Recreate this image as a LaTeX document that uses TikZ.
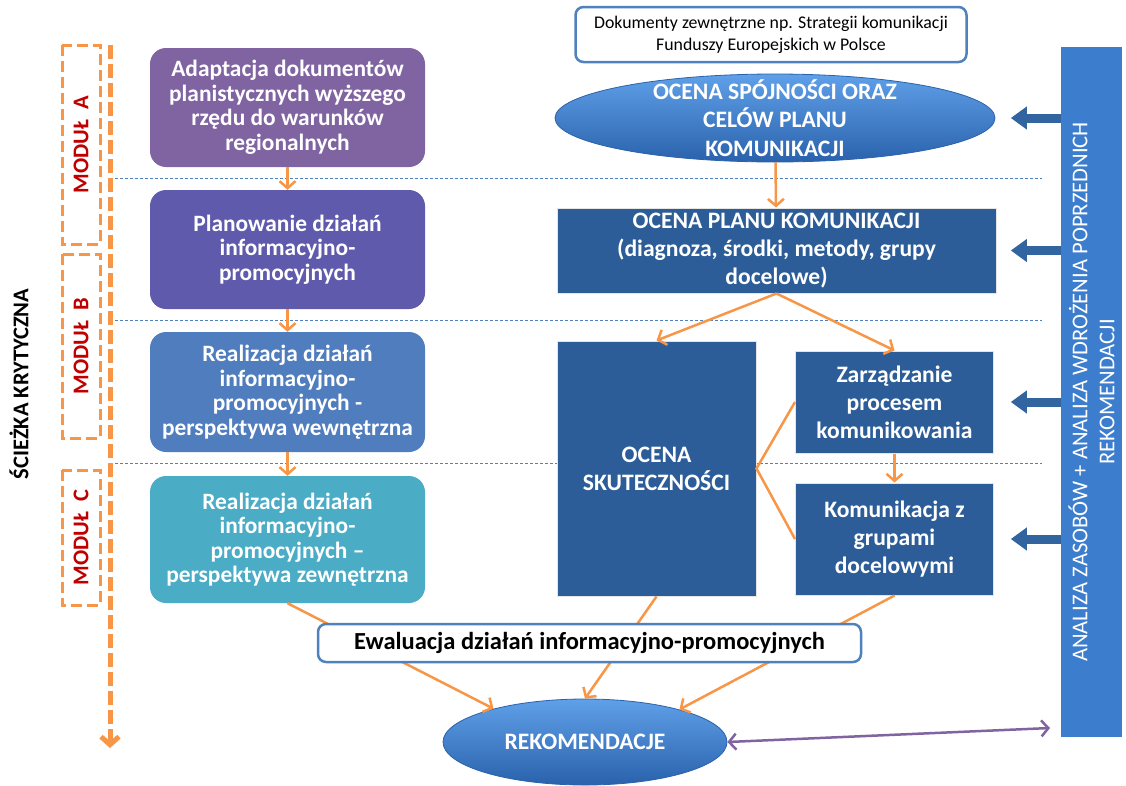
\documentclass[tikz,border=0pt]{standalone}
\usepackage{fontspec}
\setmainfont{Carlito}
\usepackage{tikz}
\usetikzlibrary{calc, positioning}
\usetikzlibrary{shapes.geometric, arrows.meta}

\definecolor{boxpurple}{RGB}{128,100,162}
\definecolor{boxviolet}{RGB}{95,90,172}
\definecolor{boxblue}{RGB}{80,125,190}
\definecolor{boxteal}{RGB}{75,172,198}
\definecolor{darkbox}{RGB}{44,93,152}
\definecolor{barblue}{RGB}{60,125,205}
\definecolor{ovaltop}{RGB}{95,160,232}
\definecolor{ovalbottom}{RGB}{42,98,172}
\definecolor{linkorange}{RGB}{247,150,70}
\definecolor{sepblue}{RGB}{79,129,189}
\definecolor{modred}{RGB}{192,0,0}
\definecolor{feedblue}{RGB}{50,100,160}

\begin{document}
\begin{tikzpicture}[x=1pt, y=-1pt,
    stepbox/.style={rounded corners=16pt, text=white, align=center, minimum width=275pt, inner sep=0pt, font=\bfseries\fontsize{23.4}{24.5}\selectfont},
    bluebox/.style={fill=darkbox, draw=white!80!gray, line width=1pt, text=white, align=center, inner sep=0pt, font=\bfseries\fontsize{23.6}{28}\selectfont},
    blueoval/.style={ellipse, top color=ovaltop, bottom color=ovalbottom, draw=ovalbottom, line width=0.8pt, inner sep=0pt, text=white, font=\bfseries\fontsize{23.6}{28}\selectfont},
    modbox/.style={draw=linkorange, dash pattern=on 11pt off 5pt, line width=3pt, rotate=90, minimum height=38pt, text=modred, font=\bfseries\fontsize{22.5}{26}\selectfont},
    link/.style={draw=linkorange, line width=2.5pt, -{Straight Barb[length=7pt, width=16pt]}},
    whitebox/.style={fill=white, draw=sepblue, line width=2.5pt, rounded corners=8pt, align=center, inner sep=0pt},
    sep/.style={sepblue, line width=0.8pt, dash pattern=on 3pt off 2pt},
    feed/.style={feedblue, line width=9pt, -{Triangle[length=16pt, width=22pt]}}]

    \useasboundingbox (0,0) rectangle (1126,785);

    \draw[sep] (110,178) -- (1042,178);
    \draw[sep] (110,320) -- (1042,320);
    \draw[sep] (110,463) -- (1042,463);

    \node[rotate=90, font=\bfseries\fontsize{22.5}{26}\selectfont] (sciezka) at (19,384) {ŚCIEŻKA KRYTYCZNA};
    \node[modbox, minimum width=199pt] (modA) at (81,144.5) {MODUŁ\ \ A};
    \node[modbox, minimum width=184pt] (modB) at (81,346) {MODUŁ\ \ B};
    \node[modbox, minimum width=135pt] (modC) at (81,537.5) {MODUŁ\ \ C};
    \coordinate (crittop) at (110,45);
    \coordinate (critend) at (110,748);
    \draw[linkorange, line width=5pt, dash pattern=on 14pt off 5pt, -{Straight Barb[length=8pt, width=18pt]}] (crittop) -- (critend);

    \node[stepbox, fill=boxpurple, minimum height=119pt] (adapt) at (287.5,107.5) {Adaptacja dokumentów\\planistycznych wyższego\\rzędu do warunków\\regionalnych};
    \node[stepbox, fill=boxviolet, minimum height=119pt] (plan) at (287.5,249.5) {Planowanie działań\\informacyjno-\\promocyjnych};
    \node[stepbox, fill=boxblue, minimum height=120pt] (realw) at (287.5,392) {Realizacja działań\\informacyjno-\\promocyjnych -\\perspektywa wewnętrzna};
    \node[stepbox, fill=boxteal, minimum height=127pt] (realz) at (287.5,539.5) {Realizacja działań\\informacyjno-\\promocyjnych –\\perspektywa zewnętrzna};

    \draw[link] (adapt) -- (plan);
    \draw[link] (plan) -- (realw);
    \draw[link] (realw) -- (realz);

    \node[whitebox, minimum width=391pt, minimum height=55pt, font=\fontsize{17.8}{22}\selectfont] (dok) at (771,34.5) {Dokumenty zewnętrzne np. Strategii komunikacji\\Funduszy Europejskich w Polsce};
    \node[blueoval, minimum width=440pt, minimum height=88pt, label={[text=white, align=center, font=\bfseries\fontsize{23.6}{28.5}\selectfont]center:{OCENA SPÓJNOŚCI ORAZ\\CELÓW PLANU\\KOMUNIKACJI}}] (spojnosc) at (775,118) {};
    \node[bluebox, minimum width=439pt, minimum height=85pt] (planocena) at (776.5,250.5) {OCENA PLANU KOMUNIKACJI\\(diagnoza, środki, metody, grupy\\docelowe)};
    \node[bluebox, minimum width=199pt, minimum height=255pt] (skut) at (656.5,468.5) {OCENA\\SKUTECZNOŚCI};
    \node[bluebox, minimum width=198pt, minimum height=102pt] (zarz) at (894.5,402) {Zarządzanie\\procesem\\komunikowania};
    \node[bluebox, minimum width=198pt, minimum height=112pt] (komun) at (894.5,539) {Komunikacja z\\grupami\\docelowymi};
    \node[blueoval, minimum width=284pt, minimum height=86pt] (rekom) at (585,742) {REKOMENDACJE};

    \node[fill=barblue, minimum width=690pt, minimum height=61pt, rotate=90, inner sep=0pt, text=white, align=center, font=\fontsize{22.6}{27}\selectfont] (analiza) at (1091.5,392) {ANALIZA ZASOBÓW + ANALIZA WDROŻENIA POPRZEDNICH\\REKOMENDACJI};

    \draw[link] (spojnosc) -- (planocena);
    \draw[link] (planocena.south) -- (skut.north);
    \draw[link] (planocena.south) -- (zarz.north);
    \draw[link] (zarz) -- (komun);
    \draw[linkorange, line width=2.5pt] (zarz.west) -- (skut.east) -- (komun.west);
    \draw[link] (realz.south) -- (rekom.160);
    \draw[link] (skut.south) -- (rekom.north);
    \draw[link] (komun.south) -- (rekom.19);

    \node[whitebox, minimum width=543pt, minimum height=38pt, font=\bfseries\fontsize{24.5}{28}\selectfont] (ewal) at (589.5,643) {Ewaluacja działań informacyjno-promocyjnych};

    \draw[feed] (analiza.north |- spojnosc) -- ++(-50,0);
    \draw[feed] (analiza.north |- planocena) -- ++(-50,0);
    \draw[feed] (analiza.north |- zarz) -- ++(-50,0);
    \draw[feed] (analiza.north |- komun) -- ++(-50,0);

    \coordinate (recback) at (1050,728);
    \draw[boxpurple, line width=2.5pt, {Straight Barb[length=7pt, width=16pt]}-{Straight Barb[length=7pt, width=16pt]}] (rekom.east) -- (recback);
\end{tikzpicture}
\end{document}
